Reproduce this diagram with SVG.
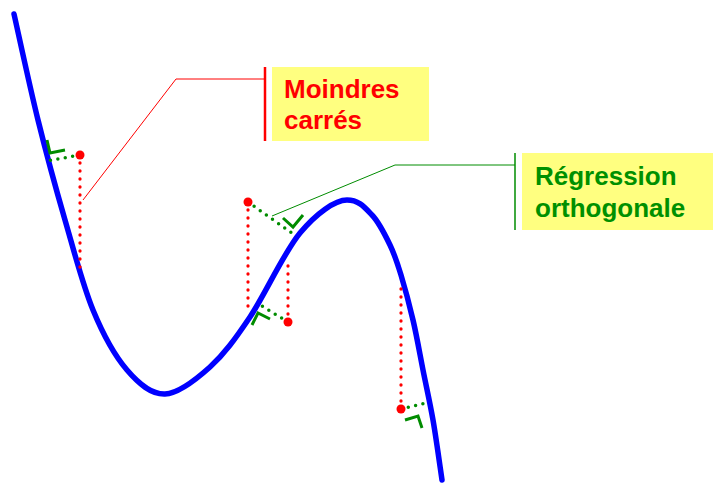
<svg xmlns="http://www.w3.org/2000/svg" width="714" height="484" viewBox="0 0 714 484">
<style>
.curve{fill:none;stroke:#0000ff;stroke-width:5.5;stroke-linecap:round;stroke-linejoin:round}
.rdot{fill:none;stroke:#ff0000;stroke-width:3.3;stroke-linecap:round;stroke-dasharray:0 8}
.gdot{fill:none;stroke:#008c00;stroke-width:3.5;stroke-linecap:round;stroke-dasharray:0 7.5}
.ra{fill:none;stroke:#008c00;stroke-width:3}
.pt{fill:#ff0000}
.box{fill:#ffff80}
.lbl{font-family:"Liberation Sans",Arial,sans-serif;font-weight:bold;font-size:26px}
</style>
<rect width="714" height="484" fill="#ffffff"/>
<g id="curve">
<path class="curve" d="M14,14 C18,31.7 29.5,85.7 38,120 C46.5,154.3 55.8,188.3 65,220 C74.2,251.7 82.7,285 93,310 C103.3,335 115,356 127,370 C139,384 151.2,394.5 165,394 C178.8,393.5 195.8,379.8 210,367 C224.2,354.2 235,339.3 250,317 C265,294.7 283.8,252.5 300,233 C316.2,213.5 335,200 347,200 C359,200 364.8,207.5 372,215 C379.2,222.5 385.2,235 390,245 C394.8,255 397.2,262.5 401,275 C404.8,287.5 409.3,304.2 413,320 C416.7,335.8 419.7,353.3 423,370 C426.3,386.7 429.8,401.7 433,420 C436.2,438.3 440.5,470 442,480"/>
</g>
<g id="connectors">
<polyline fill="none" stroke="#ff0000" stroke-width="1" points="265,79 176,79 83,200"/>
<line x1="265" y1="67" x2="265" y2="141" stroke="#ff0000" stroke-width="2.5"/>
<polyline fill="none" stroke="#008c00" stroke-width="1" points="515,165 395,165 272,216"/>
<line x1="515" y1="153" x2="515" y2="230" stroke="#008c00" stroke-width="1.5"/>
</g>
<g id="residuals">
<line class="rdot" x1="80" y1="155" x2="80" y2="272"/>
<line class="rdot" x1="248" y1="202" x2="248" y2="314"/>
<line class="rdot" x1="288" y1="322" x2="288" y2="258"/>
<line class="rdot" x1="401" y1="409" x2="401" y2="285"/>
<line class="gdot" x1="80" y1="155" x2="47" y2="161"/>
<line class="gdot" x1="248" y1="202" x2="296" y2="236"/>
<line class="gdot" x1="288" y1="322" x2="257" y2="303"/>
<line class="gdot" x1="401" y1="409" x2="426" y2="403"/>
<polyline class="ra" points="47,140 50,153 65,150"/>
<polyline class="ra" points="283,218 293,227 303,215"/>
<polyline class="ra" points="252,325 258,313 270,319"/>
<polyline class="ra" points="405,420 418,416 422,428"/>
<circle class="pt" cx="80" cy="155" r="4.5"/>
<circle class="pt" cx="248" cy="202" r="4.5"/>
<circle class="pt" cx="288" cy="322" r="4.5"/>
<circle class="pt" cx="401" cy="409" r="4.5"/>
</g>
<g id="label-moindres">
<rect class="box" x="272" y="67" width="157" height="74"/>
<text class="lbl" fill="#ff0000" x="284" y="98">Moindres</text>
<text class="lbl" fill="#ff0000" x="284" y="129">carrés</text>
</g>
<g id="label-orthogonale">
<rect class="box" x="522" y="153" width="191" height="77"/>
<text class="lbl" fill="#009000" x="535" y="185">Régression</text>
<text class="lbl" fill="#009000" x="535" y="217">orthogonale</text>
</g>
</svg>
